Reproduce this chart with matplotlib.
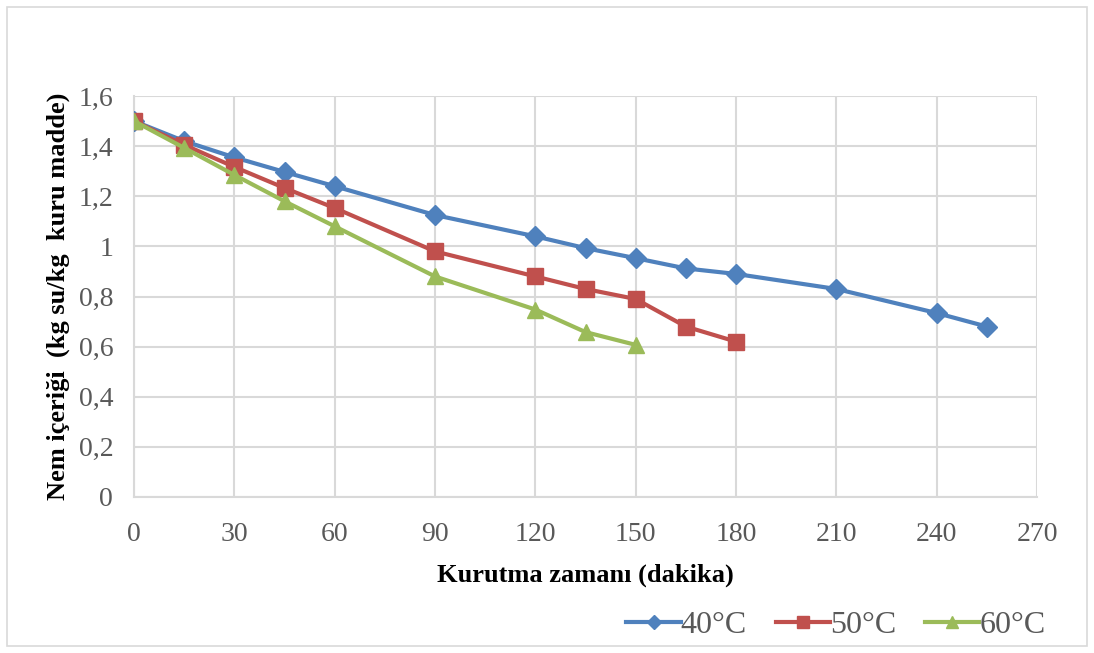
import matplotlib
matplotlib.use("Agg")
import matplotlib.pyplot as plt
from matplotlib.patches import Rectangle

plt.rcParams['font.family'] = ['Liberation Serif', 'DejaVu Serif']

t40 = [0, 15, 30, 45, 60, 90, 120, 135, 150, 165, 180, 210, 240, 255]
m40 = [1.50, 1.42, 1.355, 1.297, 1.24, 1.125, 1.04, 0.993, 0.953, 0.912, 0.89, 0.83, 0.734, 0.68]
t50 = [0, 15, 30, 45, 60, 90, 120, 135, 150, 165, 180]
m50 = [1.50, 1.405, 1.317, 1.233, 1.153, 0.98, 0.88, 0.83, 0.79, 0.68, 0.62]
t60 = [0, 15, 30, 45, 60, 90, 120, 135, 150]
m60 = [1.50, 1.393, 1.285, 1.18, 1.08, 0.88, 0.748, 0.658, 0.607]
labels = ['40°C', '50°C', '60°C']
xticks = [0, 30, 60, 90, 120, 150, 180, 210, 240, 270]
yticks = [0, 0.2, 0.4, 0.6, 0.8, 1.0, 1.2, 1.4, 1.6]
yticklabels = ['0', '0,2', '0,4', '0,6', '0,8', '1', '1,2', '1,4', '1,6']

W, H = 1094, 653
fig = plt.figure(figsize=(W/100, H/100), dpi=100)
fig.patches.append(Rectangle((7/W, 7/H), (1087-7)/W, (646-7)/H, transform=fig.transFigure,
                             fill=False, edgecolor='#d9d9d9', lw=1.2))
ax = fig.add_axes([134/W, 1-497/H, (1037-134)/W, (497-96)/H])

ax.plot(t40, m40, color='#4f81bd', lw=3, marker='D', ms=10, label=labels[0], zorder=3)
ax.plot(t50, m50, color='#c0504d', lw=3, marker='s', ms=12, label=labels[1], zorder=4)
ax.plot(t60, m60, color='#9bbb59', lw=3, marker='^', ms=12, label=labels[2], zorder=5)

ax.set_xlim(0, 270)
ax.set_ylim(0, 1.6)
ax.set_xticks(xticks)
ax.set_yticks(yticks)
ax.set_yticklabels(yticklabels)
ax.grid(True, color='#d9d9d9', lw=1.5)
ax.set_axisbelow(True)
for s in ['top', 'right']:
    ax.spines[s].set_visible(False)
for s in ['left', 'bottom']:
    ax.spines[s].set_color('#d9d9d9')
    ax.spines[s].set_linewidth(1.5)
ax.tick_params(axis='y', length=0, labelsize=20, colors='#595959', pad=15)
ax.tick_params(axis='x', length=0, labelsize=20, colors='#595959', pad=18)
ax.set_xlabel('Kurutma zamanı (dakika)', fontsize=19, fontweight='bold', labelpad=12)
ax.set_ylabel('Nem içeriği  (kg su/kg  kuru madde)', fontsize=19, fontweight='bold', labelpad=6)

leg = ax.legend(loc='center right', bbox_to_anchor=(1068/W, 28/H), bbox_transform=fig.transFigure,
                ncol=3, frameon=False, fontsize=23, handlelength=1.7, columnspacing=0.9,
                handletextpad=0.0, labelcolor='#595959', markerscale=0.75, borderpad=0.2)
fig.savefig('out.png', dpi=100)
